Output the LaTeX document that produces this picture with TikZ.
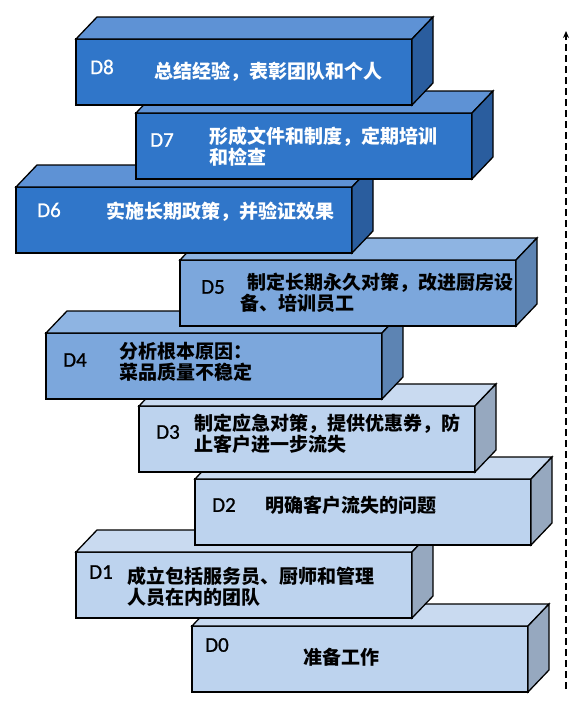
\documentclass[tikz,border=0pt]{standalone}
\usepackage{fontspec}
\usepackage{xcolor}
\usepackage{tikz}
\usetikzlibrary{arrows.meta,positioning,calc}
\newfontfamily\cjk{Noto Sans CJK SC}
\newfontfamily\labfont[FakeBold=1]{Carlito}
\definecolor{deepfront}{HTML}{3076C9}
\definecolor{deeptop}{HTML}{5E92D5}
\definecolor{deepside}{HTML}{2A5D9E}
\definecolor{midfront}{HTML}{7CA7DC}
\definecolor{midtop}{HTML}{8EB4E2}
\definecolor{midside}{HTML}{5D84B3}
\definecolor{lightfront}{HTML}{BDD3EE}
\definecolor{lighttop}{HTML}{C9DAF0}
\definecolor{lightside}{HTML}{96A8BF}

\begin{document}
\begin{tikzpicture}[
    x=1pt, y=-1pt,
    front/.style={rectangle, draw=black, line width=1.3pt, minimum width=336pt, minimum height=66pt, anchor=north west, inner sep=0pt, outer sep=0pt},
    face/.style={draw=black, line width=1.3pt, line join=miter},
    idlabel/.style={anchor=west, inner sep=0pt, font=\labfont\fontsize{21}{21}\selectfont},
    steptext/.style={anchor=west, align=left, inner sep=0pt, font=\cjk\bfseries\fontsize{19}{21}\selectfont},
    uparrow/.style={-{Stealth[length=7pt,width=6pt]}, line width=1.3pt, dash pattern=on 7pt off 4pt}
]
\useasboundingbox (0,0) rectangle (588,710);

% Blocks, bottom one first so the upper ones lie over it
\foreach \n/\x/\y/\col in {d0/192/626/light, d1/76/552/light, d2/195/479/light, d3/139/406/light, d4/46/333/mid, d5/180/260/mid, d6/16/187/deep, d7/136/113/deep, d8/76/39/deep} {
  \node[front, fill=\col front] (\n) at (\x,\y) {};
  \filldraw[face, fill=\col top] (\n.north west) -- ++(21pt,22pt) -- ++(336pt,0pt) -- (\n.north east) -- cycle;
  \filldraw[face, fill=\col side] (\n.north east) -- ++(21pt,22pt) -- ++(0pt,-66pt) -- (\n.south east) -- cycle;
}

% Labels
\node[idlabel, text=white] (l8) at ([xshift=14pt,yshift=5pt]d8.west) {D8};
\node[idlabel, text=white] (l7) at ([xshift=14pt,yshift=6pt]d7.west) {D7};
\node[idlabel, text=white] (l6) at ([xshift=21pt,yshift=10pt]d6.west) {D6};
\node[idlabel] (l5) at ([xshift=21pt,yshift=6pt]d5.west) {D5};
\node[idlabel] (l4) at ([xshift=17pt,yshift=6pt]d4.west) {D4};
\node[idlabel] (l3) at ([xshift=17pt,yshift=7pt]d3.west) {D3};
\node[idlabel] (l2) at ([xshift=17pt,yshift=7pt]d2.west) {D2};
\node[idlabel] (l1) at ([xshift=13pt,yshift=13pt]d1.west) {D1};
\node[idlabel] (l0) at ([xshift=13pt,yshift=14pt]d0.west) {D0};

% Step texts
\node[steptext, text=white] (t8) at ([xshift=78pt]d8.west) {总结经验，表彰团队和个人};
\node[steptext, text=white] (t7) at ([xshift=73pt,yshift=-1pt]d7.west) {形成文件和制度，定期培训\\和检查};
\node[steptext, text=white] (t6) at ([xshift=90pt,yshift=8pt]d6.west) {实施长期政策，并验证效果};
\node[steptext] (t5) at ([xshift=60pt]d5.west) {\hspace*{7pt}制定长期永久对策，改进厨房设\\备、培训员工};
\node[steptext] (t4) at ([xshift=73pt,yshift=4pt]d4.west) {分析根本原因：\\菜品质量不稳定};
\node[steptext] (t3) at ([xshift=55pt,yshift=5pt]d3.west) {制定应急对策，提供优惠券，防\\止客户进一步流失};
\node[steptext] (t2) at ([xshift=70pt,yshift=7pt]d2.west) {明确客户流失的问题};
\node[steptext] (t1) at ([xshift=51pt,yshift=-2pt]d1.west) {成立包括服务员、厨师和管理\\人员在内的团队};
\node[steptext] (t0) at ([xshift=111pt,yshift=2pt]d0.west) {准备工作};

% Direction arrow
\coordinate (abot) at (566,689);
\coordinate (atop) at (566,31);
\draw[uparrow] (abot) -- (atop);

\end{tikzpicture}
\end{document}
